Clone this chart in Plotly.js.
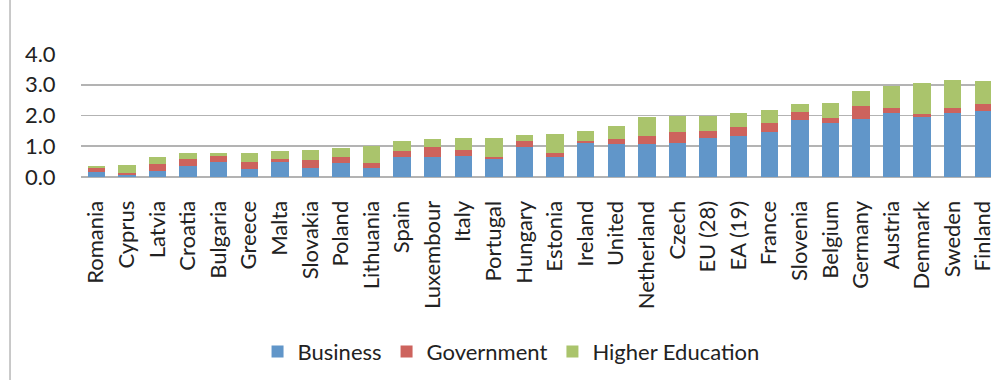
<!DOCTYPE html>
<html>
<head>
<meta charset="utf-8">
<script src="https://cdn.plot.ly/plotly-3.0.1.min.js"></script>
<style>
html,body{margin:0;padding:0;background:#fff;overflow:hidden;}
#chart{width:991px;height:380px;}
</style>
</head>
<body>
<div id="chart"></div>
<script>
const countries = ["Romania","Cyprus","Latvia","Croatia","Bulgaria","Greece","Malta","Slovakia","Poland","Lithuania",
  "Spain","Luxembour","Italy","Portugal","Hungary","Estonia","Ireland","United","Netherland","Czech",
  "EU (28)","EA (19)","France","Slovenia","Belgium","Germany","Austria","Denmark","Sweden","Finland"];
const business = [0.15,0.08,0.21,0.35,0.50,0.26,0.50,0.30,0.45,0.30,
  0.64,0.64,0.68,0.60,0.99,0.64,1.12,1.08,1.07,1.12,
  1.26,1.32,1.46,1.84,1.75,1.89,2.09,1.95,2.09,2.14];
const government = [0.15,0.05,0.20,0.24,0.18,0.24,0.10,0.24,0.20,0.14,
  0.20,0.34,0.20,0.05,0.18,0.14,0.05,0.14,0.25,0.34,
  0.25,0.29,0.29,0.29,0.18,0.43,0.14,0.10,0.15,0.23];
const higherEducation = [0.05,0.27,0.24,0.20,0.10,0.29,0.23,0.34,0.28,0.57,
  0.33,0.24,0.39,0.62,0.18,0.63,0.34,0.43,0.63,0.52,
  0.47,0.48,0.43,0.24,0.48,0.49,0.73,1.01,0.91,0.74];
const yTicks = [0,1,2,3,4];
const yTickText = ["0.0","1.0","2.0","3.0","4.0"];

const FONT = "Lato, 'Open Sans', sans-serif";
const traces = [
  {name:"Business", y:business, color:"#6196c9"},
  {name:"Government", y:government, color:"#cd635d"},
  {name:"Higher Education", y:higherEducation, color:"#aac46c"}
].map(s => ({
  type:"bar", x:countries, y:s.y, name:s.name,
  marker:{color:s.color, line:{width:0}}
}));

const layout = {
  width:991, height:380,
  margin:{l:81, r:0, t:54, b:203, pad:0},
  paper_bgcolor:"#fff", plot_bgcolor:"#fff",
  barmode:"stack", bargap:0.43,
  font:{family:FONT, size:22, color:"#222"},
  xaxis:{
    type:"category", range:[-0.5, 29.25], tickangle:-90,
    showgrid:false, showline:false, zeroline:false,
    ticks:"outside", ticklen:14, tickcolor:"rgba(0,0,0,0)",
    tickfont:{family:FONT, size:22, color:"#222"}, fixedrange:true
  },
  yaxis:{
    range:[0,4], tickvals:yTicks, ticktext:yTickText,
    showgrid:true, gridcolor:"#b3b3b3", gridwidth:1.8,
    zeroline:true, zerolinecolor:"#b3b3b3", zerolinewidth:1.8,
    showline:false, ticks:"outside", ticklen:20, tickcolor:"rgba(0,0,0,0)",
    tickfont:{family:FONT, size:22, color:"#222"}, fixedrange:true
  },
  showlegend:true,
  legend:{
    orientation:"h", x:0.194, xanchor:"left", y:-1.42, yanchor:"middle",
    traceorder:"normal", font:{family:FONT, size:22, color:"#222"},
    bgcolor:"rgba(0,0,0,0)", itemwidth:30
  },
  shapes:[{
    type:"line", xref:"paper", yref:"paper",
    x0:-0.078, x1:-0.078, y0:-1.7, y1:1.5,
    line:{color:"#b8b8b8", width:1.5}
  }]
};

Plotly.newPlot("chart", traces, layout, {displayModeBar:false, staticPlot:true});
</script>
</body>
</html>
